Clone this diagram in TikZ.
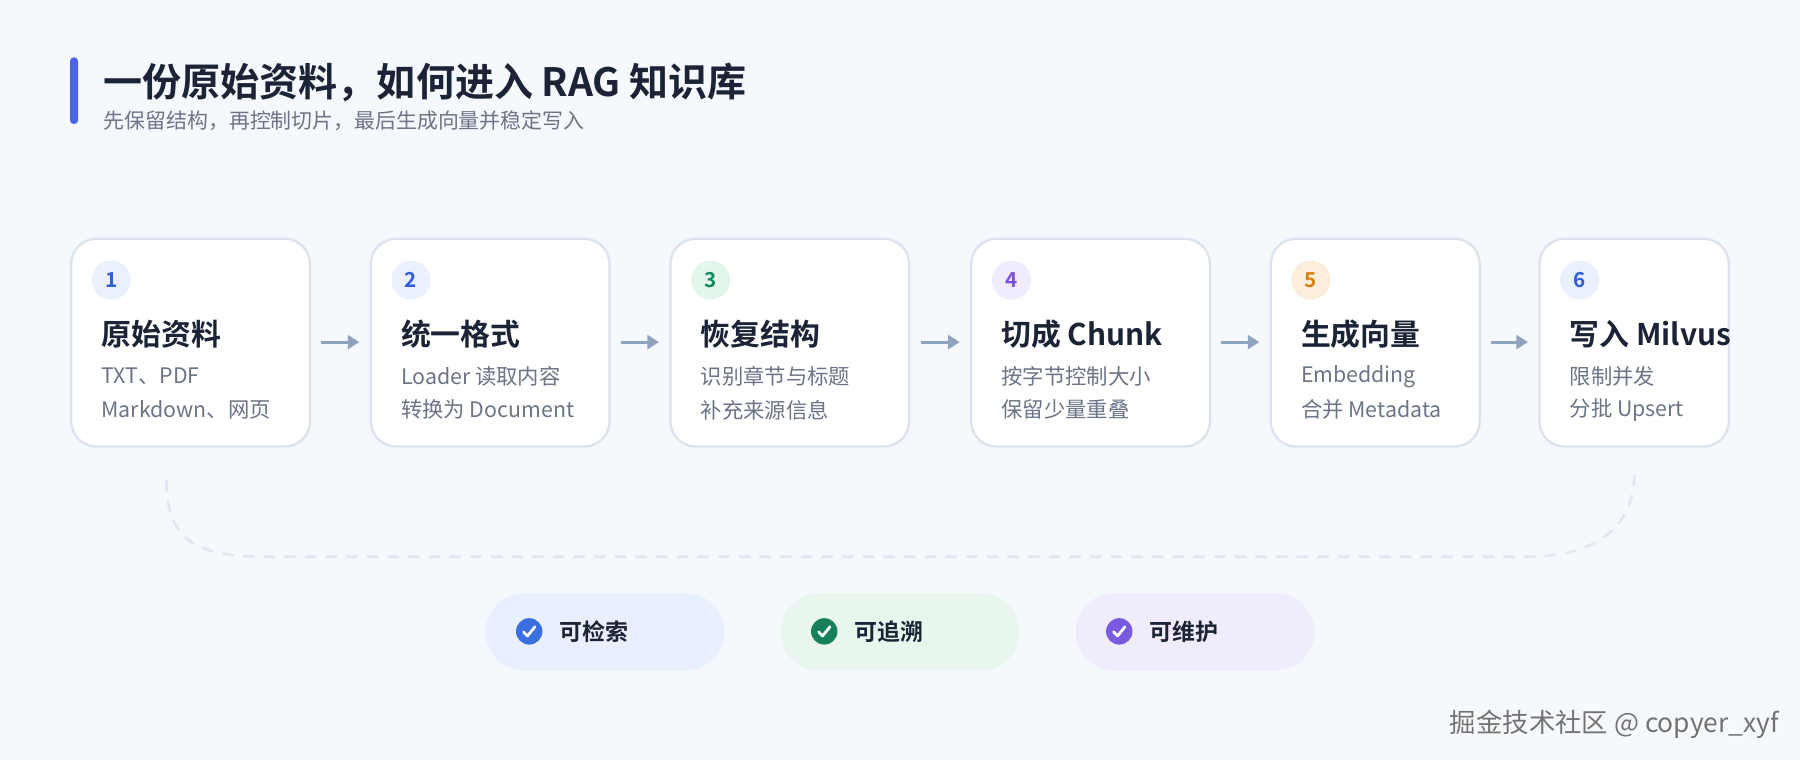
\documentclass[tikz,border=0pt]{standalone}
\usepackage{fontspec}
\setmainfont{Noto Sans CJK SC}[BoldFont={Noto Sans CJK SC Bold}]
\usetikzlibrary{arrows.meta}
\definecolor{bg}{HTML}{F5F8FD}
\definecolor{ink}{HTML}{1B2436}
\definecolor{sub}{HTML}{6B7587}
\definecolor{bd}{HTML}{DCE3EE}
\definecolor{arr}{HTML}{8FA3BF}
\definecolor{bB}{HTML}{EAF0FD}\definecolor{tB}{HTML}{2F5FD8}
\definecolor{bG}{HTML}{E3F6EC}\definecolor{tG}{HTML}{138A5A}
\definecolor{bP}{HTML}{F0EBFD}\definecolor{tP}{HTML}{7A4FE0}
\definecolor{bO}{HTML}{FDEEDB}\definecolor{tO}{HTML}{D98012}
\definecolor{pB}{HTML}{E9F0FD}\definecolor{pG}{HTML}{E8F6EE}\definecolor{pP}{HTML}{F1ECFC}
\definecolor{cB}{HTML}{3B6FE0}\definecolor{cG}{HTML}{16805A}\definecolor{cP}{HTML}{7A5AE0}
\definecolor{bar}{HTML}{4C63E6}
\tikzset{
 card/.style={draw=bd,line width=1pt,fill=white,rounded corners=11pt},
 num/.style={circle,minimum size=17pt,inner sep=0pt,font=\bfseries\fontsize{9}{9}\selectfont},
 ttl/.style={anchor=west,inner sep=0pt,text=ink,font=\bfseries\fontsize{13}{13}\selectfont},
 body/.style={anchor=west,inner sep=0pt,text=sub,font=\fontsize{9.3}{9.3}\selectfont},
 flow/.style={draw=arr,line width=1.3pt,-{Triangle[length=5pt,width=6pt]}},
 pill/.style={rounded corners=16.75pt,minimum width=104pt,minimum height=33.5pt,inner sep=0pt},
 chk/.style={circle,minimum size=11.5pt,inner sep=0pt},
 tick/.style={draw=white,line width=1.2pt,line cap=round,line join=round},
 plbl/.style={anchor=west,inner sep=0pt,text=ink,font=\bfseries\fontsize{10}{10}\selectfont},
}
\begin{document}
\begin{tikzpicture}[x=0.5pt,y=-0.5pt]
\useasboundingbox (0,0) rectangle (1568,662);
\fill[bg] (0,0) rectangle (1568,662);
\fill[color=bar,rounded corners=1.6pt] (61,50) rectangle (68,108);
\node[anchor=west,inner sep=0pt,text=ink,font=\bfseries\fontsize{17}{17}\selectfont] (title) at (90,72) {一份原始资料，如何进入 RAG 知识库};
\node[anchor=west,inner sep=0pt,text=sub,font=\fontsize{9.1}{9.1}\selectfont] (subt) at (90,105) {先保留结构，再控制切片，最后生成向量并稳定写入};
% cards
\foreach \i/\xa/\xb/\bc/\tc/\t/\la/\lb in {
 1/62/270/bB/tB/原始资料/{TXT、PDF}/{Markdown、网页},
 2/323/531/bB/tB/统一格式/{Loader 读取内容}/{转换为 Document},
 3/584/792/bG/tG/恢复结构/{识别章节与标题}/{补充来源信息},
 4/846/1054/bP/tP/切成 Chunk/{按字节控制大小}/{保留少量重叠},
 5/1107/1289/bO/tO/生成向量/{Embedding}/{合并 Metadata},
 6/1341/1506/bB/tB/写入 Milvus/{限制并发}/{分批 Upsert}}{
 \draw[card] (\xa,208) rectangle (\xb,389);
 \coordinate (c\i w) at (\xa,298);
 \coordinate (c\i e) at (\xb,298);
 \node[num,fill=\bc,text=\tc] (n\i) at (\xa+35,244) {\i};
 \node[ttl] (t\i) at (\xa+26,291) {\t};
 \node[body] (a\i) at (\xa+26,328) {\la};
 \node[body] (b\i) at (\xa+26,357) {\lb};
}
\draw[flow] ([xshift=5pt]c1e) -- ([xshift=-5pt]c2w);
\draw[flow] ([xshift=5pt]c2e) -- ([xshift=-5pt]c3w);
\draw[flow] ([xshift=5pt]c3e) -- ([xshift=-5pt]c4w);
\draw[flow] ([xshift=5pt]c4e) -- ([xshift=-5pt]c5w);
\draw[flow] ([xshift=5pt]c5e) -- ([xshift=-5pt]c6w);
% dashed loop
\coordinate (d1) at (145,418);
\coordinate (d2) at (1424,410);
\draw[bd!80!arr!60,line width=1.1pt,dash pattern=on 5pt off 4pt] (d1) .. controls (145,470) and (170,485) .. (230,485) -- (1330,485) .. controls (1390,485) and (1424,460) .. (d2);
% pills
\foreach \j/\x/\pc/\cc/\s in {1/423/pB/cB/可检索,2/680/pG/cG/可追溯,3/937/pP/cP/可维护}{
 \node[pill,fill=\pc] (p\j) at (\x+104,550.5) {};
 \node[chk,fill=\cc] (k\j) at (\x+38,550) {};
 \draw[tick] ([shift={(-5,0.5)}]k\j.center) -- ([shift={(-1.5,4)}]k\j.center) -- ([shift={(5,-4)}]k\j.center);
 \node[plbl] (l\j) at (\x+64,550) {\s};
}
\node[anchor=east,inner sep=0pt,text=white,font=\fontsize{11.5}{11.5}\selectfont] (wm0) at (1551,632) {掘金技术社区 @ copyer\_xyf};
\node[anchor=east,inner sep=0pt,text=black!55,font=\fontsize{11.5}{11.5}\selectfont] (wm) at (1550,631) {掘金技术社区 @ copyer\_xyf};
\end{tikzpicture}
\end{document}
